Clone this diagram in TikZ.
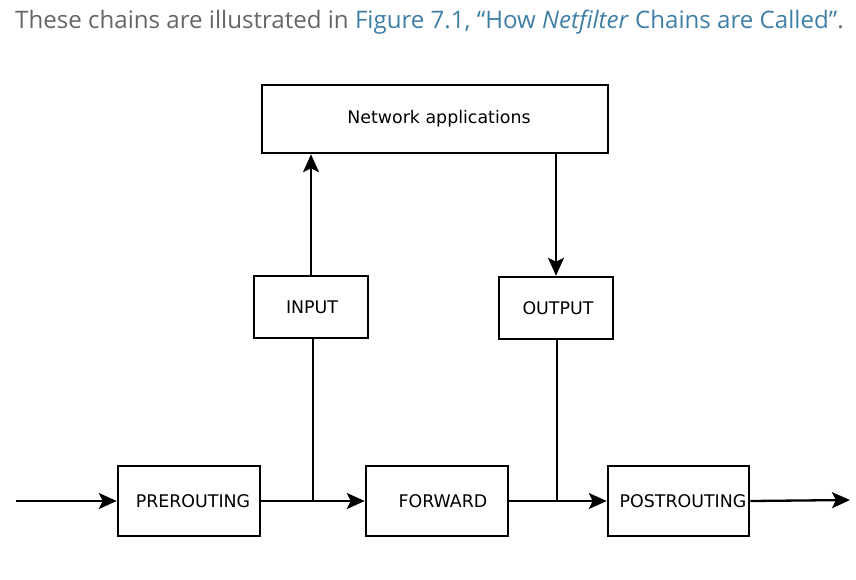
\documentclass[tikz,border=0pt]{standalone}
\usepackage{fontspec}
\setmainfont{Open Sans}
\newfontfamily\boxfont{DejaVu Sans}
\usetikzlibrary{arrows.meta}
\definecolor{bodygrey}{HTML}{666666}
\definecolor{linkblue}{HTML}{3F7FA6}
\tikzset{
  chainbox/.style={draw=black, line width=2.5pt, inner sep=0pt, font=\boxfont\fontsize{17.4}{20}\selectfont},
  conn/.style={line width=2.3pt},
  arr/.style={conn, -{Stealth[length=18pt, width=16pt, inset=4pt]}}
}
\begin{document}
\begin{tikzpicture}[x=1pt, y=-1pt]
\useasboundingbox (0,0) rectangle (856,579);
\node[anchor=base west, inner sep=0pt, font=\fontsize{24.1}{28}\selectfont] (title) at (15,28)
  {\color{bodygrey}These chains are illustrated in \color{linkblue}Figure 7.1, “How \textit{Netfilter} Chains are Called”\color{bodygrey}.};

\node[chainbox, minimum width=346pt, minimum height=68pt] (apps) at (435,119) {\hspace*{8pt}Network applications};
\node[chainbox, minimum width=114pt, minimum height=62pt] (input) at (311,307) {\hspace*{2pt}INPUT};
\node[chainbox, minimum width=114pt, minimum height=62pt] (output) at (556,308) {\hspace*{4pt}OUTPUT};
\node[chainbox, minimum width=142pt, minimum height=70pt] (pre) at (189,501) {\hspace*{8pt}PREROUTING};
\node[chainbox, minimum width=142pt, minimum height=70pt] (fwd) at (437,501) {\hspace*{12pt}FORWARD};
\node[chainbox, minimum width=141pt, minimum height=70pt] (post) at (678.5,501) {\hspace*{9pt}POSTROUTING};

\coordinate (inL) at (16,501);
\coordinate (outR) at (850,500);
\coordinate (jin) at (313,501);
\coordinate (jout) at (557,501);

\draw[arr] (inL) -- (pre.west);
\draw[arr] (pre.east) -- (fwd.west);
\draw[arr] (fwd.east) -- (post.west);
\draw[arr] (post.east) -- (outR);
\draw[conn] (jin) -- (jin |- input.south);
\draw[arr] (input.north) -- (apps.south -| input.north);
\draw[arr] (apps.south -| output.north) -- (output.north);
\draw[conn] (output.south -| jout) -- (jout);
\end{tikzpicture}
\end{document}
